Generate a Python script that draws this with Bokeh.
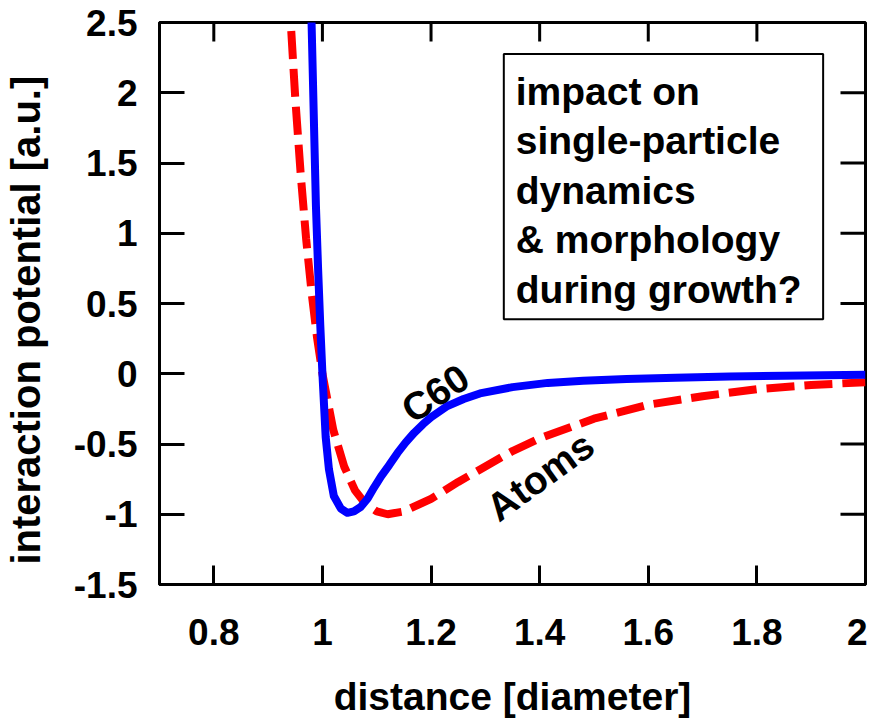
from bokeh.plotting import figure
from bokeh.models import Label, BoxAnnotation, FixedTicker, LinearAxis
from bokeh.embed import file_html
from bokeh.resources import INLINE

# ---- data ----
c60_x = [0.979, 0.980, 0.984, 0.988, 0.992, 0.996, 1.000, 1.006, 1.012, 1.021,
         1.034, 1.046, 1.058, 1.070, 1.083, 1.095, 1.108, 1.123, 1.138, 1.153,
         1.169, 1.185, 1.200, 1.230, 1.260, 1.290, 1.350, 1.415, 1.480, 1.560,
         1.650, 1.750, 1.850, 2.000]
c60_y = [2.60, 2.50, 1.85, 1.20, 0.75, 0.35, 0.00, -0.45, -0.68, -0.87,
         -0.96, -0.99, -0.98, -0.95, -0.89, -0.81, -0.73, -0.65, -0.565, -0.49,
         -0.42, -0.36, -0.31, -0.23, -0.18, -0.14, -0.095, -0.065, -0.05, -0.038,
         -0.028, -0.02, -0.014, -0.008]

atoms_x = [0.935, 0.940, 0.950, 0.960, 0.970, 0.980, 0.990, 1.000, 1.020, 1.040,
           1.060, 1.080, 1.100, 1.120, 1.150, 1.200, 1.250, 1.300, 1.350, 1.400,
           1.500, 1.600, 1.700, 1.800, 1.900, 2.000]
atoms_y = [2.98, 2.61, 1.96, 1.42, 0.96, 0.58, 0.26, 0.00, -0.40, -0.66,
           -0.83, -0.93, -0.98, -1.00, -0.98, -0.89, -0.77, -0.66, -0.55, -0.46,
           -0.32, -0.22, -0.16, -0.11, -0.08, -0.06]

x_ticks = [0.8, 1.0, 1.2, 1.4, 1.6, 1.8, 2.0]
x_tick_labels = ["0.8", "1", "1.2", "1.4", "1.6", "1.8", "2"]
y_ticks = [-1.5, -1.0, -0.5, 0.0, 0.5, 1.0, 1.5, 2.0, 2.5]
y_tick_labels = ["-1.5", "-1", "-0.5", "0", "0.5", "1", "1.5", "2", "2.5"]

x_title = "distance [diameter]"
y_title = "interaction potential [a.u.]"
c60_label = "C60"
atoms_label = "Atoms"
box_lines = ["impact on", "single-particle", "dynamics", "& morphology", "during growth?"]

FONT = "Liberation Sans"
X0, X1 = 0.7, 2.0
Y0, Y1 = -1.5, 2.5

p = figure(x_range=(X0, X1), y_range=(Y0, Y1),
           frame_width=706, frame_height=562,
           min_border_left=158, min_border_right=2, min_border_top=22, min_border_bottom=136,
           output_backend="svg", toolbar_location=None,
           x_axis_type=None, y_axis_type=None)
p.grid.visible = False
p.outline_line_color = "black"
p.outline_line_width = 3
p.background_fill_color = "white"
p.border_fill_color = "white"


def style_axis(ax, ticks, labels, tick_len, title_size):
    ax.ticker = FixedTicker(ticks=ticks, minor_ticks=[])
    ax.major_label_overrides = {t: l for t, l in zip(ticks, labels)}
    ax.axis_line_color = "black"
    ax.axis_line_width = 3
    ax.major_tick_line_color = "black"
    ax.major_tick_line_width = 3
    ax.major_tick_in = tick_len
    ax.major_tick_out = 0
    ax.minor_tick_line_color = None
    ax.major_label_text_font = FONT
    ax.major_label_text_font_style = "bold"
    ax.major_label_text_color = "black"
    ax.major_label_text_font_size = "37px"
    ax.axis_label_text_font = FONT
    ax.axis_label_text_font_style = "bold"
    ax.axis_label_text_font_size = title_size
    ax.axis_label_text_color = "black"


xb = LinearAxis()
style_axis(xb, x_ticks, x_tick_labels, 19, "39px")
xb.major_label_standoff = 34
xb.axis_label = x_title
xb.axis_label_standoff = 27
p.add_layout(xb, "below")

yl = LinearAxis()
style_axis(yl, y_ticks, y_tick_labels, 25, "40px")
yl.major_label_standoff = 22
# trailing no-break spaces shift the centred title slightly down, as in the reference
yl.axis_label = y_title + "\u00a0\u00a0\u00a0"
yl.axis_label_standoff = 23
p.add_layout(yl, "left")

# mirrored ticks on top and right edges
p.ray(x=x_ticks, y=[Y1] * len(x_ticks), length=19, angle=-90, angle_units="deg",
      length_units="screen", line_color="black", line_width=3)
p.ray(x=[X1] * len(y_ticks), y=y_ticks, length=25, angle=180, angle_units="deg",
      length_units="screen", line_color="black", line_width=3)

# curves
p.line(atoms_x, atoms_y, line_color="#ff0000", line_width=8, line_dash="28 10",
       line_cap="butt")
p.line(c60_x, c60_y, line_color="#0000ff", line_width=8, line_join="round")

# curve labels
p.add_layout(Label(x=1.208, y=-0.14, text=c60_label, angle=34, angle_units="deg",
                   text_align="center", text_baseline="middle",
                   text_font=FONT, text_font_style="bold", text_font_size="39px",
                   text_color="black"))
p.add_layout(Label(x=1.401, y=-0.73, text=atoms_label, angle=36, angle_units="deg",
                   text_align="center", text_baseline="middle",
                   text_font=FONT, text_font_style="bold", text_font_size="39px",
                   text_color="black"))

# text box
p.add_layout(BoxAnnotation(left=1.334, right=1.922, top=2.276, bottom=0.388,
                           fill_color="white", fill_alpha=1.0,
                           line_color="black", line_alpha=1.0, line_width=2))
box_baselines = [2.012, 1.659, 1.307, 0.954, 0.602]
for txt, yb in zip(box_lines, box_baselines):
    p.add_layout(Label(x=1.356, y=yb, text=txt, text_align="left",
                       text_baseline="alphabetic",
                       text_font=FONT, text_font_style="bold", text_font_size="39px",
                       text_color="black"))

open("out.html", "w").write(file_html(p, INLINE))
